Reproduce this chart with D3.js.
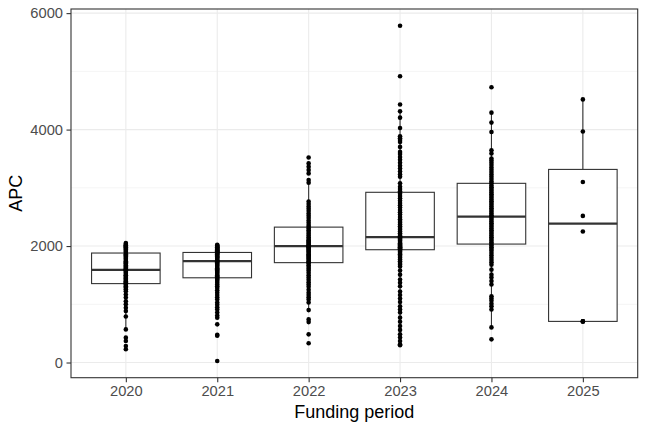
<!DOCTYPE html>
<html>
<head>
<meta charset="utf-8">
<script src="https://cdn.jsdelivr.net/npm/d3@7"></script>
<style>
  body { margin: 0; background: #fff; }
  text { font-family: "Liberation Sans", Arial, sans-serif; }
</style>
</head>
<body>
<div id="chart"></div>
<script>
// funding periods (x categories)
const periods = ["2020", "2021", "2022", "2023", "2024", "2025"];

// box statistics
const q1s     = [1355, 1455, 1715, 1937, 2034, 706];
const medians = [1590, 1740, 2000, 2154, 2506, 2386];
const q3s     = [1880, 1890, 2325, 2923, 3077, 3316];

// individual APC values per period
const apc2020 = [227, 284, 369, 427, 569, 791, 883, 940, 1000, 1053, 1116, 1168, 1224,
  1260, 1290, 1310, 1330, 1350, 1360, 1375, 1390, 1400, 1420, 1440, 1450, 1470, 1490, 1500,
  1520, 1540, 1560, 1580, 1590, 1600, 1610, 1630, 1650, 1670, 1690, 1700, 1720, 1740, 1760,
  1780, 1800, 1820, 1840, 1860, 1880, 1900, 1920, 1940, 1960, 1980, 1990, 2000, 2010, 2020,
  2035, 2051];
const apc2021 = [27, 460, 475, 655, 769, 808, 860, 911, 950, 990, 1030, 1080, 1120, 1160,
  1200, 1240, 1280, 1310, 1340, 1370, 1400, 1420, 1440, 1460, 1480, 1500, 1520, 1540, 1560,
  1580, 1600, 1620, 1640, 1660, 1680, 1700, 1720, 1740, 1750, 1760, 1780, 1800, 1810, 1820,
  1840, 1860, 1870, 1880, 1890, 1900, 1910, 1920, 1930, 1940, 1950, 1960, 1970, 1980, 1990,
  2000, 2010, 2022];
const apc2022 = [330, 484, 694, 740, 900, 1030, 1080, 1120, 1160, 1200, 1250, 1300, 1340,
  1380, 1420, 1460, 1500, 1540, 1580, 1610, 1640, 1670, 1700, 1720, 1740, 1760, 1780, 1800,
  1820, 1840, 1860, 1880, 1900, 1920, 1940, 1960, 1980, 1990, 2000, 2010, 2020, 2040, 2060,
  2080, 2100, 2120, 2150, 2180, 2210, 2240, 2270, 2300, 2330, 2360, 2400, 2440, 2480, 2520,
  2560, 2600, 2640, 2680, 2720, 2763, 3088, 3133, 3248, 3305, 3362, 3419, 3521];
const apc2023 = [296, 313, 369, 430, 484, 560, 626, 700, 770, 860, 910, 967, 1040, 1100,
  1160, 1220, 1310, 1370, 1424, 1509, 1580, 1650, 1680, 1710, 1740,
  1770, 1800, 1830, 1860, 1880, 1900, 1920, 1940, 1950, 1960, 1970, 1980, 1990, 2000, 2010,
  2030, 2050, 2070, 2090, 2110, 2130, 2150, 2170, 2190, 2220, 2250, 2280, 2310, 2340, 2370,
  2400, 2430, 2460, 2500, 2540, 2580, 2620, 2660, 2700, 2740, 2780, 2820, 2860, 2900, 2940,
  2980, 3019, 3077, 3190, 3230, 3280, 3330, 3380, 3430, 3480, 3530, 3580, 3617, 3703, 3788,
  3820, 3850, 3885, 4028, 4205, 4313, 4432, 4916, 5783];
const apc2024 = [398, 603, 911, 967, 1010, 1060, 1100, 1138, 1340, 1400, 1460, 1509, 1595,
  1680, 1720, 1760, 1800, 1840, 1880, 1920, 1950, 1980, 2010, 2034, 2060, 2090, 2120, 2150,
  2180, 2210, 2240, 2270, 2300, 2330, 2360, 2390, 2420, 2450, 2480, 2506, 2530, 2560, 2590,
  2620, 2650, 2680, 2710, 2740, 2770, 2800, 2830, 2860, 2890, 2920, 2950, 2980, 3010, 3040,
  3077, 3110, 3150, 3190, 3230, 3270, 3310, 3350, 3390, 3430, 3470, 3504, 3590, 3646, 3959,
  4120, 4291, 4728];
const apc2025 = [706, 706, 706, 2250, 2518, 3099, 3966, 4518];

const apcValues = [apc2020, apc2021, apc2022, apc2023, apc2024, apc2025];

const yTicks = [0, 2000, 4000, 6000];
const yMinor = [1000, 3000, 5000];

// layout
const W = 648, H = 432;
const panel = { left: 71, right: 637.7, top: 9, bottom: 377.7 };

const svg = d3.select("#chart")
  .append("svg")
    .attr("width", W)
    .attr("height", H);

svg.append("rect").attr("width", W).attr("height", H).attr("fill", "#fff");

// scales
const x = d3.scalePoint()
  .domain(periods)
  .range([panel.left, panel.right])
  .padding(0.6);

const allVals = apcValues.flat();
const lo = d3.min(allVals), hi = d3.max(allVals);
const pad = (hi - lo) * 0.05;
const y = d3.scaleLinear()
  .domain([lo - pad, hi + pad])
  .range([panel.bottom, panel.top]);

// grid
const grid = svg.append("g");
grid.selectAll(".minor")
  .data(yMinor)
  .enter().append("line")
    .attr("x1", panel.left).attr("x2", panel.right)
    .attr("y1", d => y(d)).attr("y2", d => y(d))
    .attr("stroke", "#EBEBEB").attr("stroke-width", 0.55);
grid.selectAll(".major")
  .data(yTicks)
  .enter().append("line")
    .attr("x1", panel.left).attr("x2", panel.right)
    .attr("y1", d => y(d)).attr("y2", d => y(d))
    .attr("stroke", "#EBEBEB").attr("stroke-width", 1.1);
grid.selectAll(".vmajor")
  .data(periods)
  .enter().append("line")
    .attr("x1", d => x(d)).attr("x2", d => x(d))
    .attr("y1", panel.top).attr("y2", panel.bottom)
    .attr("stroke", "#EBEBEB").attr("stroke-width", 1.1);

// boxplots
const boxW = x.step() * 0.75;
const boxes = svg.append("g")
  .selectAll("g")
  .data(periods.map((p, i) => {
    const iqr = q3s[i] - q1s[i];
    const vals = apcValues[i];
    const wLo = d3.min(vals.filter(v => v >= q1s[i] - 1.5 * iqr));
    const wHi = d3.max(vals.filter(v => v <= q3s[i] + 1.5 * iqr));
    return { p, q1: q1s[i], med: medians[i], q3: q3s[i], wLo, wHi };
  }))
  .enter().append("g");

boxes.append("line")
  .attr("x1", d => x(d.p)).attr("x2", d => x(d.p))
  .attr("y1", d => y(d.q3)).attr("y2", d => y(d.wHi))
  .attr("stroke", "#333333").attr("stroke-width", 1.1);
boxes.append("line")
  .attr("x1", d => x(d.p)).attr("x2", d => x(d.p))
  .attr("y1", d => y(d.q1)).attr("y2", d => y(d.wLo))
  .attr("stroke", "#333333").attr("stroke-width", 1.1);
boxes.append("rect")
  .attr("x", d => x(d.p) - boxW / 2)
  .attr("width", boxW)
  .attr("y", d => y(d.q3))
  .attr("height", d => y(d.q1) - y(d.q3))
  .attr("fill", "#fff")
  .attr("stroke", "#333333").attr("stroke-width", 1.1);
boxes.append("line")
  .attr("x1", d => x(d.p) - boxW / 2).attr("x2", d => x(d.p) + boxW / 2)
  .attr("y1", d => y(d.med)).attr("y2", d => y(d.med))
  .attr("stroke", "#333333").attr("stroke-width", 2.2);

// points
const pts = [];
periods.forEach((p, i) => apcValues[i].forEach(v => pts.push({ p, v })));
svg.append("g")
  .selectAll("circle")
  .data(pts)
  .enter().append("circle")
    .attr("cx", d => x(d.p))
    .attr("cy", d => y(d.v))
    .attr("r", 2.3)
    .attr("fill", "#000");

// panel border
svg.append("rect")
  .attr("x", panel.left).attr("y", panel.top)
  .attr("width", panel.right - panel.left)
  .attr("height", panel.bottom - panel.top)
  .attr("fill", "none")
  .attr("stroke", "#333333").attr("stroke-width", 1.1);

// axes
const xAxis = svg.append("g")
  .attr("transform", "translate(0," + panel.bottom + ")")
  .call(d3.axisBottom(x).tickSize(4.5).tickPadding(3.5));
const yAxis = svg.append("g")
  .attr("transform", "translate(" + panel.left + ",0)")
  .call(d3.axisLeft(y).tickValues(yTicks).tickFormat(d3.format("d")).tickSize(4.5).tickPadding(3.5));

[xAxis, yAxis].forEach(a => {
  a.select(".domain").remove();
  a.selectAll(".tick line").attr("stroke", "#333333").attr("stroke-width", 1.1);
  a.selectAll(".tick text")
    .attr("fill", "#4D4D4D")
    .style("font-size", "14.7px")
    .style("font-family", '"Liberation Sans", Arial, sans-serif');
});

// axis titles
svg.append("text")
  .attr("x", (panel.left + panel.right) / 2)
  .attr("y", 418)
  .attr("text-anchor", "middle")
  .style("font-size", "18px")
  .attr("fill", "#000")
  .text("Funding period");

svg.append("text")
  .attr("transform", "translate(22," + ((panel.top + panel.bottom) / 2) + ") rotate(-90)")
  .attr("text-anchor", "middle")
  .style("font-size", "18px")
  .attr("fill", "#000")
  .text("APC");
</script>
</body>
</html>
